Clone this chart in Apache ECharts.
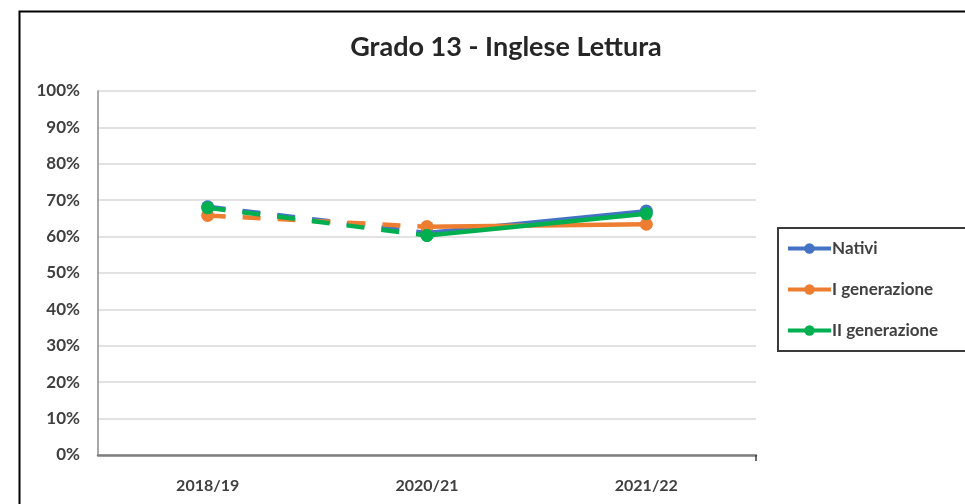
<!DOCTYPE html>
<html><head><meta charset="utf-8">
<script src="https://cdn.jsdelivr.net/npm/echarts@6/dist/echarts.min.js"></script>
<style>html,body{margin:0;padding:0;background:#fff;}#c{width:965px;height:504px;}</style>
</head><body><div id="c"></div>
<script>
const categories = ['2018/19', '2020/21', '2021/22'];
const nativi = [68.2, 61.0, 67.0];
const primaGen = [65.8, 62.7, 63.4];
const secondaGen = [67.9, 60.3, 66.3];
const yTicks = [0, 10, 20, 30, 40, 50, 60, 70, 80, 90, 100];
const names = ['Nativi', 'I generazione', 'II generazione'];
const colors = ['#4472C4', '#ED7D31', '#00B050'];
const values = [nativi, primaGen, secondaGen];

const font = 'Lato, "Open Sans", sans-serif';
const txt = '#404040';

function solidPart(arr) { return arr.map((v, i) => i >= 1 ? v : null); }
function dashedPart(arr) { return arr.map((v, i) => i <= 1 ? v : null); }

const series = [];
values.forEach((arr, k) => {
  series.push({
    name: names[k], type: 'line', data: solidPart(arr),
    symbol: 'circle', symbolSize: 13, color: colors[k],
    lineStyle: { width: 4.5, color: colors[k] },
    itemStyle: { color: colors[k] }, z: 2 + k, animation: false
  });
});
values.forEach((arr, k) => {
  series.push({
    name: names[k], type: 'line', data: dashedPart(arr),
    symbol: 'circle', symbolSize: 13, color: colors[k],
    lineStyle: { width: 4.5, color: colors[k], type: [18, 17] },
    itemStyle: { color: colors[k] }, z: 2 + k, animation: false
  });
});

const chart = echarts.init(document.getElementById('c'));
chart.setOption({
  backgroundColor: '#fff',
  animation: false,
  title: {
    text: 'Grado 13 - Inglese Lettura', left: 501, top: 29, textAlign: 'center',
    textStyle: { fontFamily: font, fontSize: 27, fontWeight: 'bold', color: '#262626' }
  },
  legend: {
    data: names,
    orient: 'vertical', left: 778, top: 228,
    itemWidth: 43, itemHeight: 13, itemGap: 24,
    lineStyle: { width: 4 },
    borderColor: '#3a3a3a', borderWidth: 2, padding: [12, 40, 12, 8],
    textStyle: { fontFamily: font, fontSize: 17, fontWeight: 'bold', color: txt, padding: [0, 0, 0, -4] }
  },
  grid: { left: 98, right: 209, top: 91, bottom: 49, containLabel: false },
  xAxis: [{
    type: 'category', data: categories, boundaryGap: true,
    axisLine: { lineStyle: { color: '#7f7f7f', width: 2.5 } },
    axisTick: { alignWithLabel: true, length: 6, lineStyle: { color: '#3a3a3a', width: 1.5 } },
    axisLabel: { fontFamily: font, fontSize: 16, fontWeight: 'bold', color: txt, margin: 23 }
  }, {
    type: 'value', min: -0.5, max: 2.5, interval: 0.5, position: 'bottom',
    axisLine: { show: false }, splitLine: { show: false },
    axisLabel: { show: false },
    axisTick: { show: true, customValues: [2.5], length: 6, lineStyle: { color: '#3a3a3a', width: 1.5 } }
  }],
  yAxis: {
    type: 'value', min: 0, max: 100, interval: 10,
    axisLine: { show: true, onZero: false, lineStyle: { color: '#8c8c8c', width: 1.5 } },
    axisTick: { show: false },
    splitLine: { lineStyle: { color: '#d9d9d9', width: 1.5 } },
    axisLabel: {
      fontFamily: font, fontSize: 17, fontWeight: 'bold', color: txt, margin: 18,
      customValues: yTicks, formatter: v => v + '%'
    }
  },
  graphic: [{
    type: 'rect', left: 17, top: 9,
    shape: { width: 1000, height: 600 },
    style: { fill: null, stroke: '#000', lineWidth: 2 }, silent: true, z: 100
  }],
  series: series
});
</script></body></html>
